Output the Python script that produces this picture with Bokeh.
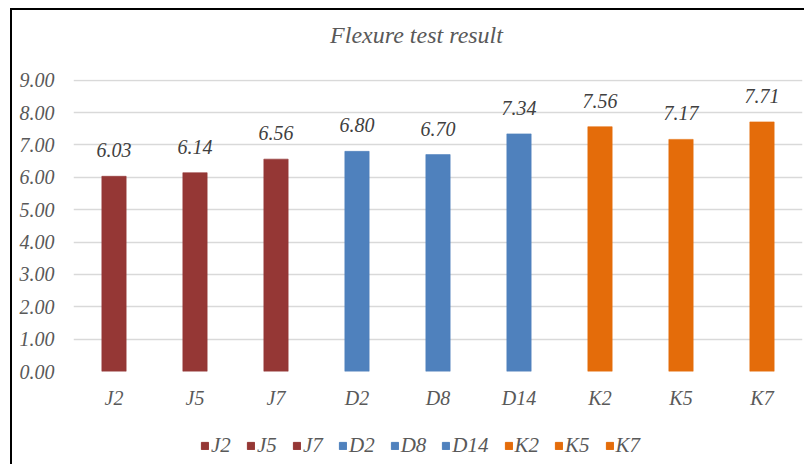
from bokeh.plotting import figure
from bokeh.layouts import column
from bokeh.models import (ColumnDataSource, FixedTicker, PrintfTickFormatter, LabelSet,
                          Label, Legend, LegendItem, FactorRange, Range1d)
from bokeh.embed import file_html
from bokeh.resources import INLINE

categories = ["J2", "J5", "J7", "D2", "D8", "D14", "K2", "K5", "K7"]
values = [6.03, 6.14, 6.56, 6.80, 6.70, 7.34, 7.56, 7.17, 7.71]
colors = ["#953735", "#953735", "#953735", "#4F81BD", "#4F81BD", "#4F81BD",
          "#E46C0A", "#E46C0A", "#E46C0A"]
y_ticks = [0, 1, 2, 3, 4, 5, 6, 7, 8, 9]
title_text = "Flexure test result"

FONT = "Liberation Serif"
GRAY = "#595959"

src = ColumnDataSource(dict(cat=categories, val=values, color=colors,
                            lab=["%.2f" % v for v in values]))
xr = FactorRange(*categories)


def strip(height, margin, styles):
    f = figure(width=794, height=height, x_range=xr, y_range=Range1d(0, 1),
               output_backend="svg", toolbar_location=None,
               min_border_left=0, min_border_right=0, min_border_top=0, min_border_bottom=0)
    f.margin = margin
    f.styles = styles
    f.axis.visible = False
    f.grid.grid_line_color = None
    f.outline_line_color = None
    f.background_fill_color = "white"
    f.border_fill_color = "white"
    return f


# title strip
p0 = strip(48, (8, 0, 0, 10), {"border-top": "2px solid #000", "border-left": "2px solid #000"})
p0.add_layout(Label(x=4.235, y=0.5, text=title_text, text_align="center",
                    text_baseline="middle", text_font=FONT, text_font_style="italic",
                    text_font_size="24px", text_color=GRAY))

# main chart
p = figure(width=794, height=369, x_range=xr,
           y_range=Range1d(0, 9.02), output_backend="svg", toolbar_location=None,
           min_border_left=61, min_border_right=4, min_border_top=23, min_border_bottom=54)
p.margin = (0, 0, 0, 10)
p.styles = {"border-left": "2px solid #000"}
p.outline_line_color = None
p.background_fill_color = "white"
p.border_fill_color = "white"

r = p.vbar(x="cat", top="val", width=0.3, source=src, fill_color="color",
           line_color="color", line_alpha=0.6)

p.xgrid.grid_line_color = None
p.ygrid.grid_line_color = "#D9D9D9"
p.ygrid.grid_line_width = 1.3
p.ygrid.ticker = FixedTicker(ticks=y_ticks)

p.yaxis.ticker = FixedTicker(ticks=y_ticks)
p.yaxis.formatter = PrintfTickFormatter(format="%.2f")
for ax in (p.xaxis[0], p.yaxis[0]):
    ax.axis_line_color = None
    ax.major_tick_line_color = None
    ax.minor_tick_line_color = None
    ax.major_label_text_font = FONT
    ax.major_label_text_font_style = "italic"
    ax.major_label_text_font_size = "20px"
    ax.major_label_text_color = GRAY
p.yaxis.major_label_standoff = 13
p.xaxis.major_label_standoff = 9

labels = LabelSet(x="cat", y="val", text="lab", source=src, text_align="center",
                  text_baseline="alphabetic", y_offset=19, text_font=FONT,
                  text_font_style="italic", text_font_size="20px", text_color="#404040")
p.add_layout(labels)

# legend strip below the chart
p2 = strip(39, (0, 0, 0, 10), {"border-left": "2px solid #000"})
p2.y_range = Range1d(-2, -1)
r2 = p2.vbar(x="cat", top="val", width=0.3, source=src, fill_color="color",
             line_color="color")
r2.visible = False

items = [LegendItem(label=c, renderers=[r2], index=i) for i, c in enumerate(categories)]
legend = Legend(items=items, orientation="horizontal", location=(127, 6),
                glyph_width=9, glyph_height=9, label_standoff=2, spacing=15,
                label_text_font=FONT, label_text_font_style="italic",
                label_text_font_size="21px", label_text_color=GRAY,
                inactive_fill_alpha=0,
                background_fill_alpha=0, border_line_color=None, padding=0, margin=0)
p2.add_layout(legend, "center")

layout = column(p0, p, p2, spacing=0)
open("out.html", "w").write(file_html(layout, INLINE))
